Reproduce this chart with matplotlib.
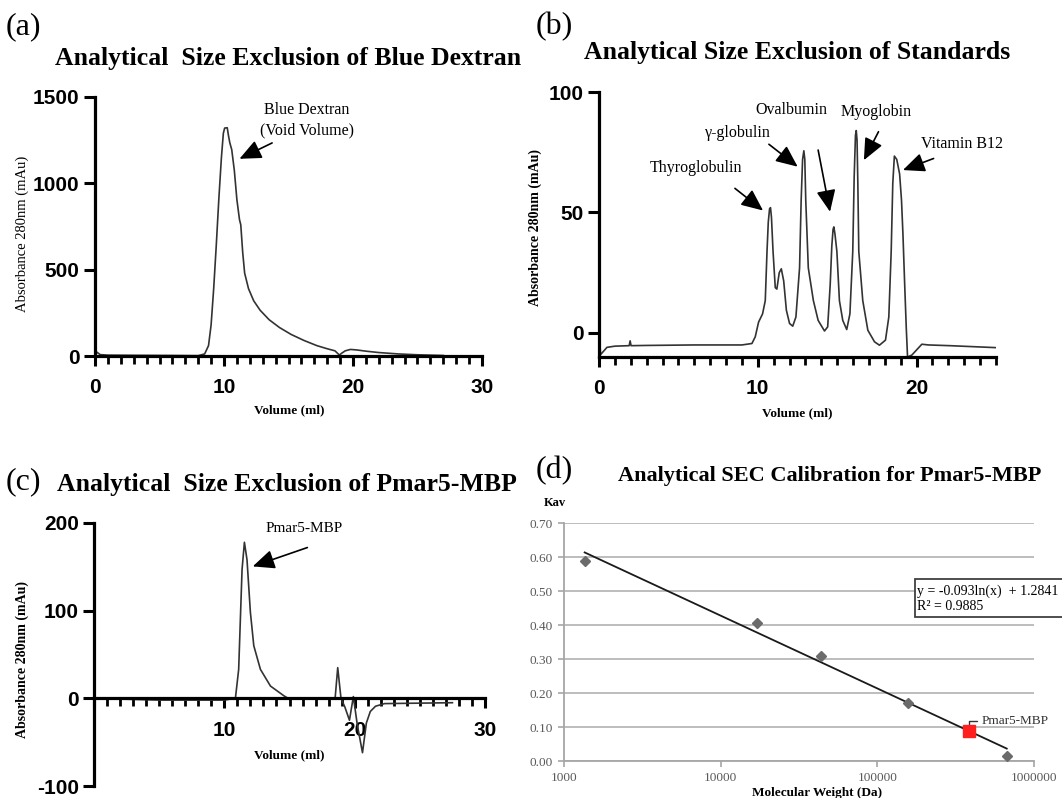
import matplotlib
matplotlib.use("Agg")
import matplotlib.pyplot as plt
import numpy as np
from matplotlib.ticker import MultipleLocator
from matplotlib.patches import Rectangle

# ---------------- data ----------------
# (a) Blue Dextran chromatogram
vol_a = [0.0, 0.15, 0.4, 1.0, 3.0, 6.0, 8.0, 8.5, 8.8, 9.0, 9.2, 9.4, 9.6, 9.8, 9.95,
         10.05, 10.25, 10.35, 10.45, 10.6, 10.8, 11.0, 11.2, 11.3, 11.45, 11.6, 11.9,
         12.3, 12.8, 13.5, 14.3, 15.2, 16.2, 17.2, 18.0, 18.6, 18.95,
         19.1, 19.4, 19.8, 20.3, 21.0, 22.0, 23.5, 25.0, 27.0]
abs_a = [5, 22, 8, 5, 4, 3, 2, 12, 60, 180, 390, 640, 910, 1150, 1290,
         1320, 1322, 1275, 1235, 1195, 1075, 905, 790, 760, 600, 480, 390,
         320, 265, 210, 165, 125, 90, 60, 42, 30, 5,
         15, 30, 38, 35, 28, 20, 12, 7, 3]

# (b) Standards chromatogram
vol_b = [0.0, 0.1, 0.5, 1.0, 1.9, 1.96, 2.02, 3.0, 6.0, 9.0,
         9.63, 9.84, 10.05, 10.3, 10.47, 10.58, 10.66, 10.74, 10.8, 10.86,
         10.96, 11.1, 11.2, 11.35, 11.48, 11.63, 11.8, 12.0, 12.2, 12.4,
         12.63, 12.73, 12.82, 12.9, 12.96, 13.02, 13.18, 13.5, 13.8, 14.2,
         14.4, 14.56, 14.66, 14.74, 14.79, 14.86, 14.98, 15.14, 15.35, 15.6,
         15.8, 15.98, 16.07, 16.15, 16.2, 16.25, 16.3, 16.36, 16.61, 16.93,
         17.35, 17.66, 18.04, 18.25, 18.4, 18.5, 18.6, 18.75, 18.93, 19.05,
         19.14, 19.25, 19.35, 19.43, 19.7, 20.33, 20.75, 22.1, 24.95]
abs_b = [1, -9, -6, -5.5, -5.3, -3.3, -5.3, -5.2, -5.0, -5.0,
         -4.4, -1.6, 4.5, 7.9, 13.4, 33.8, 46, 51.5, 52, 48,
         33.8, 18.8, 18.2, 25, 26.6, 21.6, 9.4, 3.9, 2.8, 6.6,
         27, 55, 72, 75.6, 72, 55, 27, 13.4, 5.2, 0.8,
         2.5, 20.2, 36, 43, 44, 41, 33.8, 13.4, 5.2, 1.4,
         7.9, 33.8, 65, 82, 84, 80, 62, 33.8, 13.4, 1.1,
         -3.7, -5.1, -3.0, 6.6, 33.8, 62, 73.4, 72, 66, 55,
         41, 20, 2, -10, -9.2, -4.7, -5.0, -5.3, -6.1]

# (c) Pmar5-MBP chromatogram
vol_c = [0.0, 5.0, 10.0, 10.85, 11.1, 11.36, 11.54, 11.74, 12.0, 12.26, 12.77, 13.54,
         14.56, 14.9, 18.0, 18.5, 18.7, 18.95, 19.25, 19.6, 19.9, 20.2, 20.6, 20.9,
         21.2, 21.6, 22.3, 27.5]
abs_c = [0, -2, -2, 0, 33, 147, 178, 158, 98, 60, 33, 14,
         3, 0, 0, 0, 35, 0, -10, -25, 2, -30, -62, -28,
         -15, -9, -6, -5]

# (b) peak labels: text position and arrow tail/head (data coords)
std_names = ["Thyroglobulin", "γ-globulin", "Ovalbumin", "Myoglobin", "Vitamin B12"]
std_text_xy = [(6.1, 68.3), (8.77, 82.8), (12.09, 92.4), (17.43, 91.7), (22.89, 78.6)]
std_tail_xy = [(8.56, 60.0), (10.7, 78.3), (13.8, 75.9), (17.6, 83.5), (21.07, 72.4)]
std_head_xy = [(10.33, 50.8), (12.51, 69.0), (14.55, 50.3), (16.68, 71.7), (19.14, 67.6)]

# (d) calibration
cal_mw = [1355, 17000, 44000, 158000, 670000]
cal_kav = [0.589, 0.405, 0.31, 0.171, 0.015]
pmar_mw = 385000
pmar_kav = 0.088
fit_a = -0.093
fit_b = 1.2841
fit_r2 = 0.9885

W, H = 1062, 798
fig = plt.figure(figsize=(W / 100, H / 100), dpi=100)
plt.rcParams["font.family"] = "Liberation Serif"

SERIF = "Liberation Serif"
SANS = "Liberation Sans"
LINE = "#333333"


def ax_px(l, r, t, b):
    return fig.add_axes([l / W, 1 - b / H, (r - l) / W, (b - t) / H])


def ftext(x, y, s, **kw):
    return fig.text(x / W, 1 - y / H, s, **kw)


def prism(ax, xlim, ylim, xmaj, xlabs, ymaj, zero_spine=False):
    ax.set_xlim(*xlim)
    ax.set_ylim(*ylim)
    for s in ["top", "right"]:
        ax.spines[s].set_visible(False)
    for s in ["left", "bottom"]:
        ax.spines[s].set_linewidth(2.3)
        ax.spines[s].set_color("black")
    if zero_spine:
        ax.spines["bottom"].set_position(("data", 0))
    ax.set_xticks(xmaj)
    ax.set_xticklabels(xlabs, fontfamily=SANS, fontweight="bold", fontsize=15)
    ax.set_yticks(ymaj)
    ax.set_yticklabels([f"{v:g}" for v in ymaj], fontfamily=SANS, fontweight="bold", fontsize=15)
    ax.xaxis.set_minor_locator(MultipleLocator(1))
    ax.tick_params(axis="x", which="major", direction="out", length=7, width=2.2, pad=9)
    ax.tick_params(axis="x", which="minor", direction="out", length=6, width=2.0)
    ax.tick_params(axis="y", which="major", direction="out", length=8, width=2.2, pad=3)
    ax.patch.set_alpha(0)


arrow_kw = dict(arrowstyle="-|>,head_length=0.95,head_width=0.42", color="black", lw=1.2,
                shrinkA=0, shrinkB=0, mutation_scale=14)

# ---------------- (a) ----------------
axA = ax_px(95, 482, 97, 356)
axA.plot(vol_a, abs_a, color=LINE, lw=1.2)
prism(axA, (0, 30), (0, 1500), [0, 10, 20, 30], ["0", "10", "20", "30"], [0, 500, 1000, 1500])
axA.text(16.4, 1422, "Blue Dextran", ha="center", va="center", fontsize=11.5, family=SERIF)
axA.text(16.4, 1306, "(Void Volume)", ha="center", va="center", fontsize=11.5, family=SERIF)
axA.annotate("", xy=(11.2, 1142), xytext=(13.73, 1234), arrowprops=arrow_kw)

# ---------------- (b) ----------------
axB = ax_px(599, 996, 92, 357)
axB.plot(vol_b, abs_b, color=LINE, lw=1.2)
prism(axB, (0, 25), (-10, 100), [0, 10, 20], ["0", "10", "20"], [0, 50, 100])
for name, txy, tail, head in zip(std_names, std_text_xy, std_tail_xy, std_head_xy):
    axB.text(txy[0], txy[1], name, ha="center", va="center", fontsize=11.5, family=SERIF)
    axB.annotate("", xy=head, xytext=tail, arrowprops=arrow_kw)

# ---------------- (c) ----------------
axC = ax_px(94, 485, 523, 786)
axC.plot(vol_c, abs_c, color=LINE, lw=1.2)
prism(axC, (0, 30), (-100, 200), [0, 10, 20, 30], ["", "10", "20", "30"], [-100, 0, 100, 200],
      zero_spine=True)
axC.text(16.1, 194, "Pmar5-MBP", ha="center", va="center", fontsize=11, family=SERIF)
axC.annotate("", xy=(12.18, 150.5), xytext=(16.37, 172), arrowprops=arrow_kw)

# ---------------- (d) ----------------
axD = ax_px(564, 1034, 523, 761)
axD.set_xscale("log")
axD.set_xlim(1000, 1e6)
axD.set_ylim(0, 0.7)
grid_ticks = np.arange(0, 0.71, 0.1)
axD.set_yticks(grid_ticks)
axD.set_yticklabels([f"{v:.2f}" for v in grid_ticks], fontsize=9.5, color="#595959", family=SERIF)
axD.set_xticks([1e3, 1e4, 1e5, 1e6])
axD.set_xticklabels(["1000", "10000", "100000", "1000000"], fontsize=9.5, color="#595959", family=SERIF)
axD.minorticks_off()
axD.grid(axis="y", color="#BDBDBD", lw=1.4)
axD.set_axisbelow(True)
for s in ["top", "right"]:
    axD.spines[s].set_visible(False)
for s in ["left", "bottom"]:
    axD.spines[s].set_color("#A6A6A6")
    axD.spines[s].set_linewidth(1.3)
axD.tick_params(axis="both", direction="out", length=4, width=1.2, color="#A6A6A6", pad=4)
fit_x = np.array([min(cal_mw), max(cal_mw)])
axD.plot(fit_x, fit_a * np.log(fit_x) + fit_b, color="#1a1a1a", lw=1.3, zorder=3)
axD.plot(cal_mw, cal_kav, ls="none", marker="D", ms=5.5, color="#6b6b6b", zorder=4)
axD.plot([pmar_mw], [pmar_kav], ls="none", marker="s", ms=8, color="#ff1f1f", zorder=5)
axD.annotate("Pmar5-MBP", xy=(pmar_mw, pmar_kav), xytext=(9, 7), textcoords="offset points",
             ha="left", va="center", fontsize=9.5, family=SERIF, color="#333333",
             arrowprops=dict(arrowstyle="-", color="#333333", lw=1.0, shrinkA=1, shrinkB=4,
                             relpos=(0, 0.5),
                             connectionstyle="angle,angleA=0,angleB=90,rad=0"))

# equation box
fig.add_artist(Rectangle((915 / W, 1 - 616.5 / H), 200 / W, 37.5 / H, transform=fig.transFigure,
                         fill=True, facecolor="white", edgecolor="#404040", lw=1.3, zorder=6))
ftext(917, 591, f"y = {fit_a:.3f}ln(x)  + {fit_b:.4f}", ha="left", va="center", fontsize=10,
      family=SERIF, zorder=7)
ftext(917, 606, f"R² = {fit_r2:.4f}", ha="left", va="center", fontsize=10, family=SERIF, zorder=7)

# ---------------- figure texts ----------------
ftext(6, 27, "(a)", ha="left", va="center", fontsize=23, family=SERIF)
ftext(536, 27, "(b)", ha="left", va="center", fontsize=23, family=SERIF)
ftext(6, 482, "(c)", ha="left", va="center", fontsize=23, family=SERIF)
ftext(536, 471, "(d)", ha="left", va="center", fontsize=23, family=SERIF)

ftext(288, 58, "Analytical  Size Exclusion of Blue Dextran", ha="center", va="center",
      fontsize=18.5, fontweight="bold", family=SERIF)
ftext(797, 52, "Analytical Size Exclusion of Standards", ha="center", va="center",
      fontsize=18.5, fontweight="bold", family=SERIF)
ftext(287, 484, "Analytical  Size Exclusion of Pmar5-MBP", ha="center", va="center",
      fontsize=18.5, fontweight="bold", family=SERIF)
ftext(830, 476, "Analytical SEC Calibration for Pmar5-MBP", ha="center", va="center",
      fontsize=16, fontweight="bold", family=SERIF)

ftext(22, 234, "Absorbance 280nm (mAu)", ha="center", va="center", rotation=90, fontsize=10.5,
      family=SERIF)
ftext(535, 228, "Absorbance 280nm (mAu)", ha="center", va="center", rotation=90, fontsize=10,
      fontweight="bold", family=SERIF)
ftext(22, 660, "Absorbance 280nm (mAu)", ha="center", va="center", rotation=90, fontsize=10,
      fontweight="bold", family=SERIF)

ftext(289, 410, "Volume (ml)", ha="center", va="center", fontsize=9.5, fontweight="bold", family=SERIF)
ftext(797, 413, "Volume (ml)", ha="center", va="center", fontsize=9.5, fontweight="bold", family=SERIF)
ftext(289, 755, "Volume (ml)", ha="center", va="center", fontsize=9.5, fontweight="bold", family=SERIF)

ftext(555, 503, "Kav", ha="center", va="center", fontsize=9, fontweight="bold", family=SERIF)
ftext(817, 793, "Molecular Weight (Da)", ha="center", va="center", fontsize=9.5, fontweight="bold",
      family=SERIF)

fig.savefig("out.png", dpi=100)
